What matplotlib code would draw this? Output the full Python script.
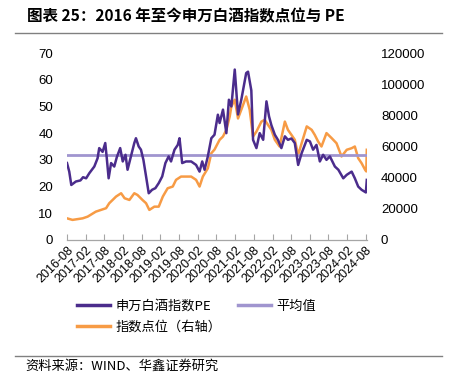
import matplotlib
matplotlib.use("Agg")
import matplotlib.pyplot as plt
from matplotlib.lines import Line2D
import pandas as pd

plt.rcParams['font.family'] = ['Noto Sans CJK SC', 'DejaVu Sans']

title = "图表 25：2016 年至今申万白酒指数点位与 PE"
source = "资料来源：WIND、华鑫证券研究"
pe_label = "申万白酒指数PE"
mean_label = "平均值"
idx_label = "指数点位（右轴）"

pe_dates = ["2016-08-01", "2016-08-23", "2016-09-12", "2016-10-27", "2016-12-10", "2017-01-05",
            "2017-02-04", "2017-03-07",
            "2017-04-25", "2017-05-27", "2017-06-12", "2017-07-15", "2017-08-10", "2017-08-24",
            "2017-09-12", "2017-10-06", "2017-11-06", "2017-12-01", "2018-01-03", "2018-01-28",
            "2018-02-24", "2018-03-16", "2018-04-18", "2018-05-21", "2018-06-06", "2018-07-03",
            "2018-07-25", "2018-08-18", "2018-09-13", "2018-10-09", "2018-11-11", "2018-12-13",
            "2019-01-15", "2019-02-18", "2019-03-21", "2019-04-22", "2019-05-15", "2019-06-18",
            "2019-07-20", "2019-08-06", "2019-09-01", "2019-10-09", "2019-11-28", "2020-01-15",
            "2020-02-18", "2020-03-15", "2020-04-07", "2020-05-09", "2020-06-12", "2020-07-13",
            "2020-08-15", "2020-09-01", "2020-10-04", "2020-11-06", "2020-12-01", "2020-12-25",
            "2021-01-27", "2021-02-28", "2021-04-01", "2021-05-19", "2021-06-06", "2021-07-08",
            "2021-07-25", "2021-08-27", "2021-09-28", "2021-11-01", "2021-12-03", "2021-12-28",
            "2022-01-20", "2022-02-23", "2022-03-25", "2022-04-28", "2022-06-01", "2022-07-01",
            "2022-08-04", "2022-09-06", "2022-10-09", "2022-11-12", "2023-01-01", "2023-02-01",
            "2023-03-04", "2023-04-06", "2023-05-09", "2023-06-10", "2023-07-13", "2023-08-15",
            "2023-10-03", "2023-11-06", "2023-12-24", "2024-01-27", "2024-03-15", "2024-04-15",
            "2024-05-18", "2024-06-20", "2024-08-01", "2024-08-10"]
pe_values = [28.8, 25.6, 20.6, 21.9, 22.3, 23.5,
             23.1, 25.0,
             27.5, 30.6, 34.4, 33.0, 36.3, 31.0,
             23.1, 28.8, 27.5, 31.0, 34.4, 29.4,
             31.9, 26.3, 31.3, 36.3, 38.1, 35.0,
             33.8, 30.0, 23.8, 17.5, 18.8, 19.4,
             21.3, 23.8, 28.8, 31.3, 29.4, 33.8,
             35.6, 38.1, 28.8, 29.4, 29.4, 28.1,
             25.6, 29.4, 26.3, 31.3, 38.1, 39.4,
             46.9, 43.8, 48.8, 40.0, 52.5, 50.0,
             63.8, 47.0, 52.5, 62.5, 63.0, 56.0,
             37.5, 34.4, 40.0, 37.5, 51.9, 46.3,
             43.0, 39.4, 37.5, 34.4, 38.8, 37.5,
             38.0, 36.3, 28.1, 32.5, 37.5, 36.9,
             33.8, 35.6, 29.4, 31.9, 30.0, 31.3,
             27.5, 26.3, 23.1, 24.4, 25.6, 23.1,
             20.0, 18.8, 17.8, 22.5]

idx_dates = ["2016-08-01", "2016-09-24", "2017-01-01", "2017-02-19", "2017-05-10", "2017-08-18",
             "2017-09-18", "2017-10-21", "2017-11-24", "2018-01-12", "2018-02-15", "2018-04-03",
             "2018-05-21", "2018-06-21", "2018-08-09", "2018-09-13", "2018-10-15", "2018-12-03",
             "2019-01-15", "2019-02-24", "2019-04-12", "2019-06-01", "2019-07-03", "2019-08-21",
             "2019-10-09", "2019-11-28", "2020-01-15", "2020-02-18", "2020-03-21", "2020-05-09",
             "2020-06-12", "2020-07-13", "2020-09-01", "2020-10-04", "2020-11-06", "2020-12-09",
             "2020-12-25", "2021-01-27", "2021-02-28", "2021-04-01", "2021-05-19", "2021-06-22",
             "2021-07-25", "2021-08-27", "2021-10-15", "2021-11-16", "2021-12-18", "2022-01-20",
             "2022-02-23", "2022-04-10", "2022-06-01", "2022-07-01", "2022-08-04", "2022-09-06",
             "2022-10-09", "2022-11-12", "2023-01-01", "2023-02-18", "2023-03-20", "2023-04-22",
             "2023-05-25", "2023-07-13", "2023-09-01", "2023-10-19", "2023-12-07", "2024-01-27",
             "2024-03-15", "2024-04-15", "2024-05-18", "2024-06-20", "2024-07-25", "2024-08-05",
             "2024-08-10"]
idx_values = [13900, 12900, 13900, 15000, 18200, 20400,
              23600, 25700, 27900, 30000, 26800, 25700,
              30000, 28900, 25700, 23600, 19300, 21400,
              21400, 27900, 33200, 34300, 38600, 40700,
              40700, 40700, 38600, 34300, 40700, 46000,
              55700, 58000, 64300, 66400, 70700, 79300,
              85700, 90000, 78000, 83600, 92100, 83600,
              66400, 69600, 76000, 77100, 73900, 70700,
              64300, 60000, 76000, 70700, 67500, 64300,
              54600, 62100, 72900, 70700, 67500, 63200,
              60000, 68600, 65400, 62100, 53600, 57900,
              58900, 60000, 52500, 49300, 45000, 44000,
              57900]

pe_mean = 31.9
tick_labels = ["2016-08", "2017-02", "2017-08", "2018-02", "2018-08", "2019-02", "2019-08",
               "2020-02", "2020-08", "2021-02", "2021-08", "2022-02", "2022-08", "2023-02",
               "2023-08", "2024-02", "2024-08"]

pe_x = pd.to_datetime(pe_dates)
idx_x = pd.to_datetime(idx_dates)
tick_x = pd.to_datetime([t + "-01" for t in tick_labels])

c_pe = "#4B2C8C"
c_idx = "#F79B45"
c_mean = "#A095CF"

fig = plt.figure(figsize=(4.52, 3.72), dpi=100)
ax = fig.add_axes([67 / 452, 1 - 240 / 372, 300 / 452, 187 / 372])
ax2 = ax.twinx()

ax2.plot(idx_x, idx_values, color=c_idx, lw=1.8, zorder=2)
ax.axhline(pe_mean, color=c_mean, lw=2.0, zorder=3)
ax.plot(pe_x, pe_values, color=c_pe, lw=1.8, zorder=4)
ax.set_zorder(ax2.get_zorder() + 1)
ax.patch.set_visible(False)

ax.set_xlim(pd.Timestamp("2016-08-01"), pd.Timestamp("2024-08-12"))
ax.set_ylim(0, 70)
ax2.set_ylim(0, 120000)
ax.set_yticks(range(0, 71, 10))
ax2.set_yticks(range(0, 120001, 20000))

for a in (ax, ax2):
    for s in a.spines.values():
        s.set_visible(False)
ax.spines['bottom'].set_visible(True)
ax.spines['bottom'].set_color("#A6A6A6")
ax.spines['bottom'].set_linewidth(0.9)

ax.set_xticks(tick_x)
ax.set_xticklabels(tick_labels, rotation=45, ha='right', rotation_mode='anchor',
                   fontsize=9, family=['Liberation Sans'])
ax.tick_params(axis='x', direction='in', length=4, color="#A6A6A6", pad=3)
ax.tick_params(axis='y', length=0, pad=10, labelsize=9.5)
ax2.tick_params(axis='y', length=0, pad=10, labelsize=9.5)
for lab in ax.get_yticklabels() + ax2.get_yticklabels():
    lab.set_family(['Liberation Sans'])

fig.text(27 / 452, 1 - 16 / 372, title, fontsize=11.2, fontweight='bold', va='center', ha='left')
fig.add_artist(Line2D([15 / 452, 442 / 452], [1 - 33 / 372, 1 - 33 / 372], color="#808080", lw=1.0))
fig.add_artist(Line2D([15 / 452, 442 / 452], [1 - 356 / 372, 1 - 356 / 372], color="#808080", lw=1.0))
fig.text(25 / 452, 1 - 366 / 372, source, fontsize=9.5, va='center', ha='left')

handles = [Line2D([], [], color=c_pe, lw=2.5), Line2D([], [], color=c_idx, lw=2.5),
           Line2D([], [], color=c_mean, lw=2.5)]
labels = [pe_label, idx_label, mean_label]
fig.legend(handles, labels, ncol=2, loc='upper left', bbox_to_anchor=(77 / 452, 1 - 300 / 372),
           frameon=False, fontsize=9.5, handlelength=2.5, handletextpad=0.4,
           columnspacing=1.3, labelspacing=0.6, borderpad=0, borderaxespad=0)

fig.savefig("out.png", dpi=100)
